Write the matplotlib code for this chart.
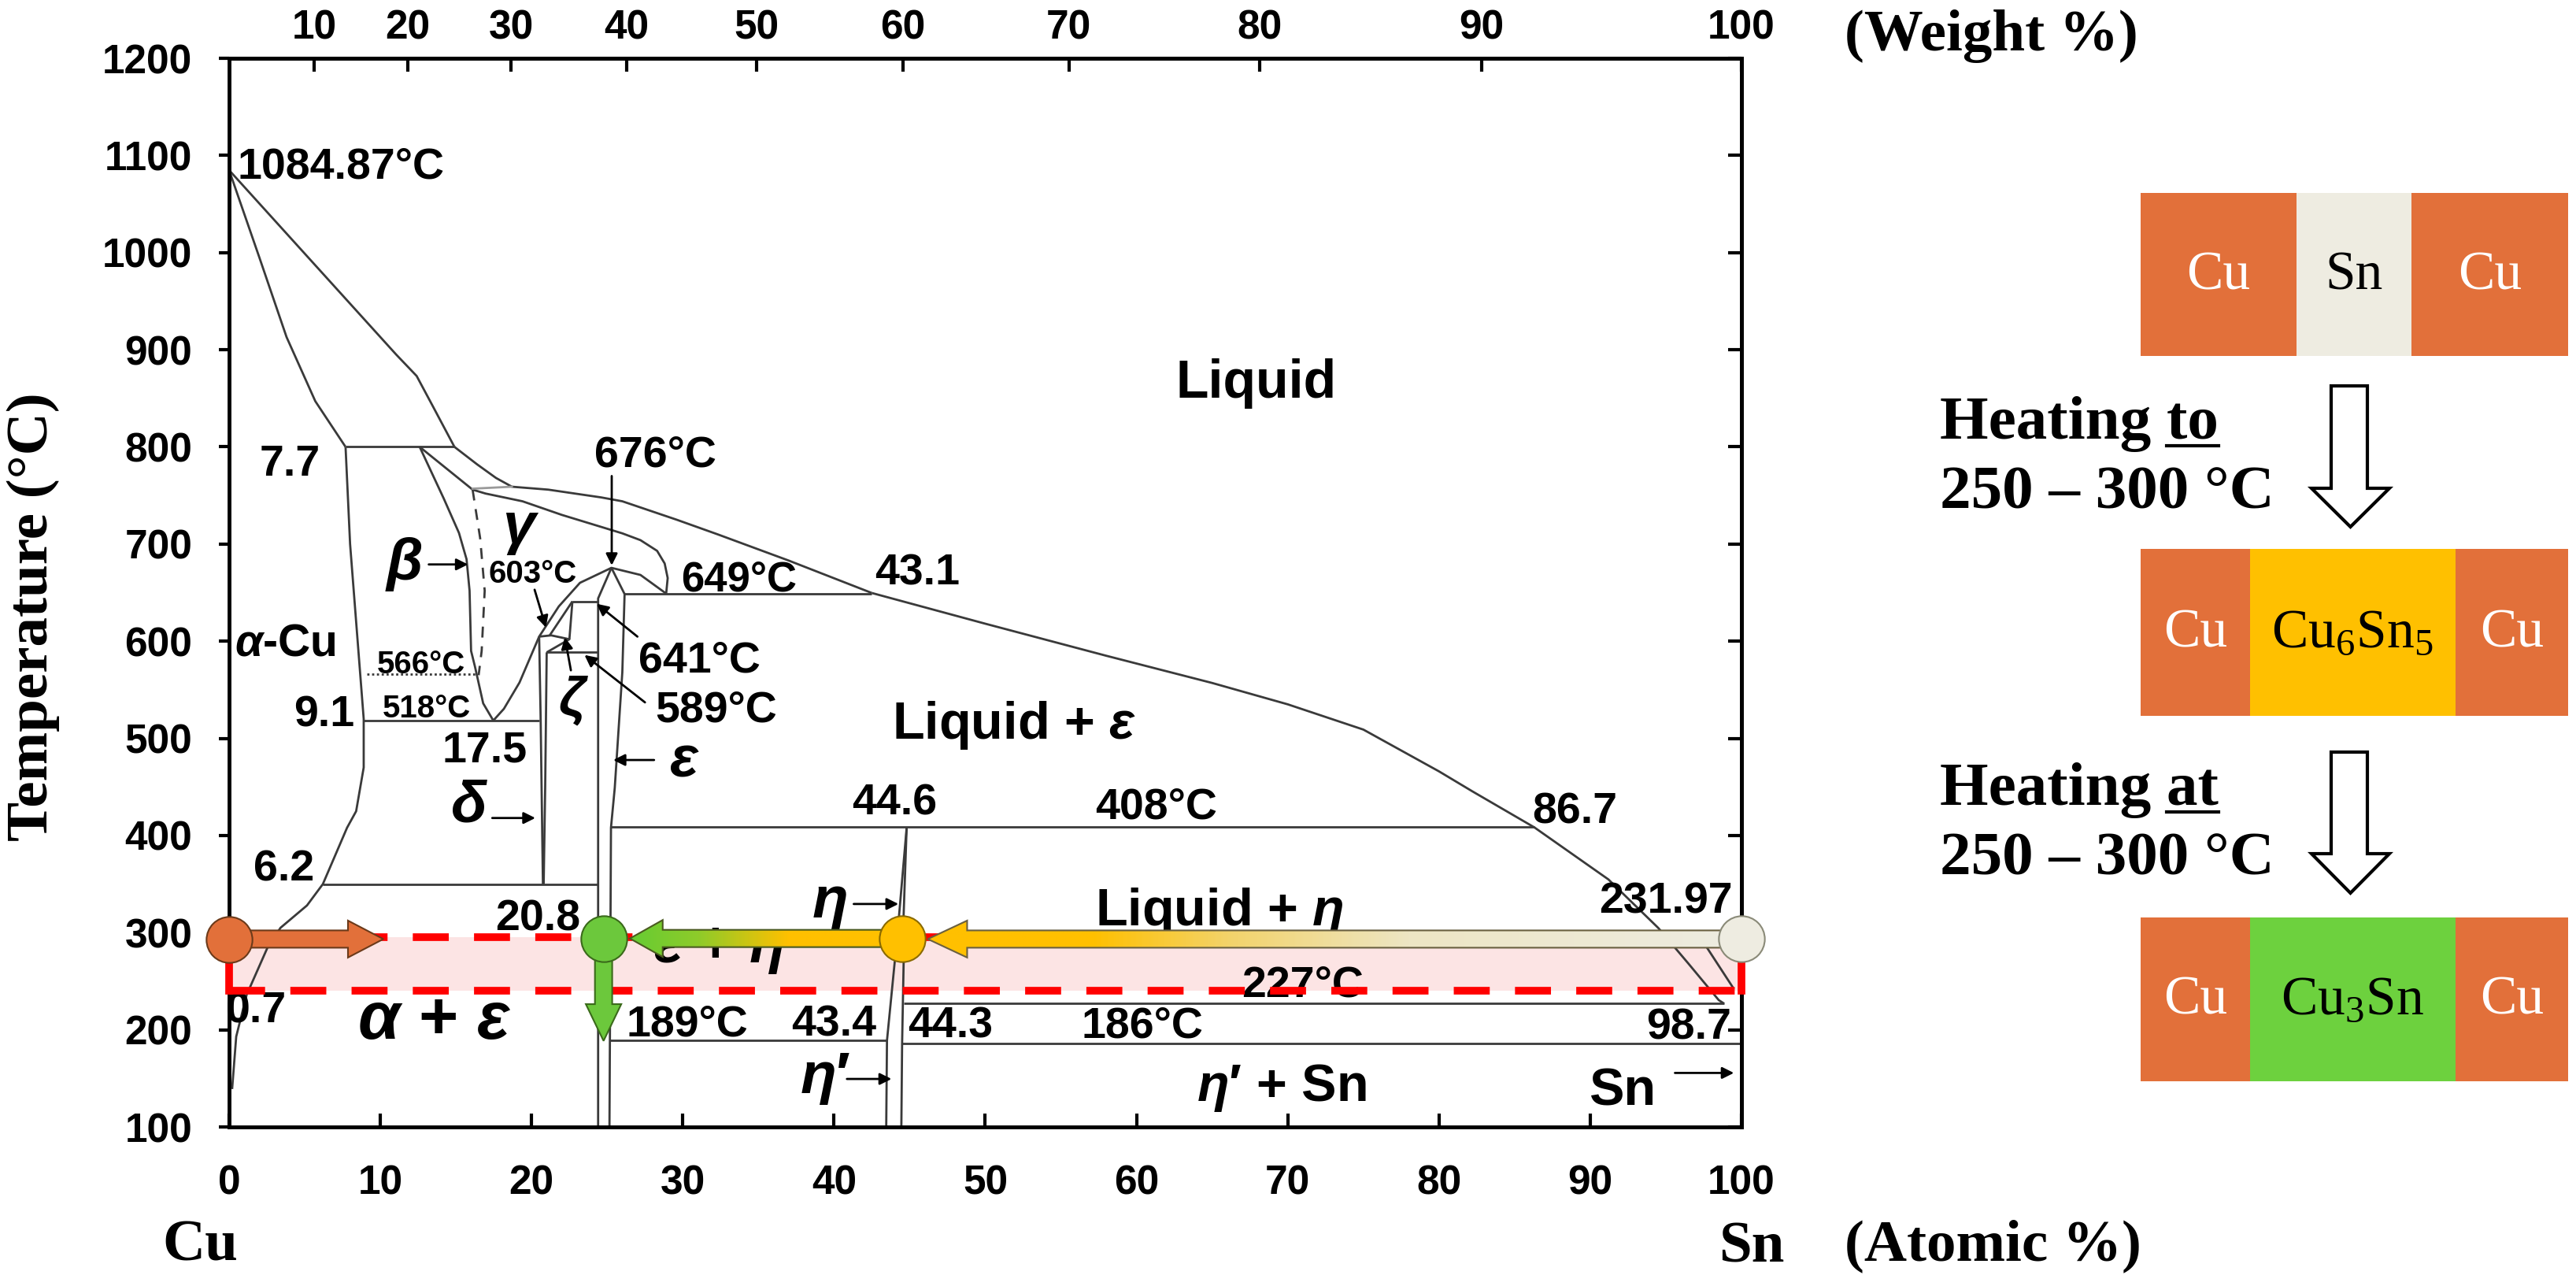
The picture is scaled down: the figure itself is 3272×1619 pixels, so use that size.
import numpy as np
import matplotlib
matplotlib.use("Agg")
import matplotlib.pyplot as plt
from matplotlib.patches import Polygon, Rectangle
from matplotlib.colors import LinearSegmentedColormap

plt.rcParams["font.family"] = ["Liberation Sans", "DejaVu Sans"]
plt.rcParams["font.weight"] = "bold"
plt.rcParams["mathtext.fontset"] = "custom"
plt.rcParams["mathtext.rm"] = "Liberation Sans:bold"
plt.rcParams["mathtext.it"] = "Liberation Sans:italic:bold"
plt.rcParams["mathtext.bf"] = "Liberation Sans:bold"
plt.rcParams["mathtext.sf"] = "Liberation Serif:regular"

SERIF = ["Liberation Serif", "DejaVu Serif"]

# ticks
temp_ticks = [100, 200, 300, 400, 500, 600, 700, 800, 900, 1000, 1100, 1200]
atomic_ticks = [0, 10, 20, 30, 40, 50, 60, 70, 80, 90, 100]
weight_ticks = [10, 20, 30, 40, 50, 60, 70, 80, 90, 100]

# phase boundaries: x = at.% Sn, T = deg C
liq_cu_x = [0, 11.05, 12.4, 13.5, 14.9]
liq_cu_T = [1084.87, 895, 873, 841, 800]
sol_cu_x = [0, 2.0, 3.8, 5.7, 7.7]
sol_cu_T = [1084.87, 995, 913, 847, 800]
per800_x = [7.7, 14.9]
per800_T = [800, 800]
alpha_x = [7.7, 8.0, 8.5, 8.9, 8.9, 8.4, 7.8, 6.2, 5.15, 3.4, 2.55, 1.16, 0.47, 0.2]
alpha_T = [800, 700, 600, 520, 470, 425, 408, 350, 328, 305, 285, 236, 193, 139]
beta_x = [12.6, 14.2, 15.2, 15.7, 15.9, 16.0, 16.26, 16.8, 17.47]
beta_T = [800, 746.6, 711.4, 684.4, 652, 590, 573.6, 536, 518.3]
dome_x = [17.47, 18.17, 19.2, 20.5, 21.8, 23.2, 25.28, 27.2, 28.9]
dome_T = [518.3, 530.4, 557.4, 604.7, 635.8, 660.1, 675.5, 668.2, 649]
gamma_x = [12.6, 16.1, 16.95, 19.4, 22.0, 26.0, 27.2, 28.3, 28.8, 29.0, 28.9]
gamma_T = [800, 756, 752, 744, 730, 711, 704, 693, 680, 665, 649]
liq_mid_x = [14.9, 16.4, 17.65, 18.7, 21.1, 24.6, 26.0, 29.6, 32.3, 37.0, 42.5]
liq_mid_T = [800, 782, 768, 759, 756, 748, 744, 725, 710, 683, 649.6]
liq_sn_x = [42.5, 50, 58, 65, 70, 75, 80, 82.2, 86.3, 91.2, 94.5, 96.5, 98.5, 98.85]
liq_sn_T = [649.6, 618, 585, 557, 535, 509, 466, 445.5, 408.4, 354.8, 304.8, 268, 230.5, 227]
sn_side_x = [97.7, 99.5]
sn_side_T = [285, 242]
eut518_x = [8.9, 20.5]
eut518_T = [518, 518]
eut350_x = [6.2, 24.4]
eut350_T = [350, 350]
per649_x = [26.15, 42.5]
per649_T = [649, 649]
eps_l_x = [25.28, 24.4, 24.4]
eps_l_T = [675.5, 644, 100]
eps_r_x = [25.28, 26.15, 26.0, 25.5, 25.25, 25.15]
eps_r_T = [675.5, 648.5, 568, 449, 408, 100]
zeta_top_x = [22.7, 24.4]
zeta_top_T = [641, 641]
zeta_a_x = [22.7, 22.5]
zeta_a_T = [641, 602]
zeta_b_x = [22.7, 21.2]
zeta_b_T = [641, 606]
small_x = [20.5, 21.3, 22.5, 21.0]
small_T = [604.7, 606, 602, 588.5]
delta_l_x = [20.5, 20.6, 20.75]
delta_l_T = [604.7, 520, 350]
delta_r_x = [21.0, 20.9, 20.8]
delta_r_T = [588.5, 450, 350]
eut589_x = [21.0, 24.4]
eut589_T = [588.5, 588.5]
per408_x = [25.2, 86.3]
per408_T = [408.5, 408.5]
eta_l_x = [44.8, 44.3, 44.0, 43.5, 43.45]
eta_l_T = [408, 318, 268, 189, 100]
eta_r_x = [44.8, 44.6, 44.6, 44.5, 44.45]
eta_r_T = [408, 318, 268, 186, 100]
eut227_x = [44.6, 98.85]
eut227_T = [227.5, 227.5]
l189_x = [25.15, 43.5]
l189_T = [189, 189]
l186_x = [44.5, 100]
l186_T = [186, 186]
dash_bg_x = [16.1, 16.6, 16.9, 16.7, 16.5]
dash_bg_T = [756, 706, 652, 590, 565]
dot566_x = [9.1, 16.4]
dot566_T = [566, 566]
grey760_x = [16.1, 18.7]
grey760_T = [757, 759]

solid_lines = [
    (liq_cu_x, liq_cu_T), (sol_cu_x, sol_cu_T), (per800_x, per800_T),
    (alpha_x, alpha_T), (beta_x, beta_T), (dome_x, dome_T),
    (gamma_x, gamma_T), (liq_mid_x, liq_mid_T), (liq_sn_x, liq_sn_T),
    (sn_side_x, sn_side_T), (eut518_x, eut518_T), (eut350_x, eut350_T),
    (per649_x, per649_T), (eps_l_x, eps_l_T), (eps_r_x, eps_r_T),
    (zeta_top_x, zeta_top_T), (zeta_a_x, zeta_a_T), (zeta_b_x, zeta_b_T),
    (small_x, small_T), (delta_l_x, delta_l_T), (delta_r_x, delta_r_T),
    (eut589_x, eut589_T), (per408_x, per408_T), (eta_l_x, eta_l_T),
    (eta_r_x, eta_r_T), (eut227_x, eut227_T), (l189_x, l189_T),
    (l186_x, l186_T),
]

# process window (deg C) and the diffusion arrows
band_T = [240, 295]
circle_x = [0, 24.76, 44.5, 100]
circle_T = [292.7, 294, 293.4, 293.4]
circle_fc = ["#E2703A", "#6CC83C", "#FFC000", "#EEECE1"]
circle_ec = ["#6b3a1a", "#3a6a1a", "#8a6a00", "#8a8a78"]
cu_arrow_x = [0, 10.2]
cu_arrow_T = 293.4
eta_arrow_x = [44.5, 26.5]
eta_arrow_T = 294
sn_arrow_x = [100, 46.2]
sn_arrow_T = 293.4
eps_arrow_x = 24.76
eps_arrow_T = [294, 188.6]

# phase labels: text, x, T, size, ha, va
labels = [
    ("1084.87°C", 0.54, 1076, 40, "left", "baseline"),
    ("7.7", 4.0, 770, 40, "center", "baseline"),
    (r"$\beta$", 11.55, 679.5, 54, "center", "center"),
    (r"$\gamma$", 19.3, 715, 54, "center", "center"),
    ("603°C", 20.1, 660, 29, "center", "baseline"),
    ("676°C", 28.2, 780, 40, "center", "baseline"),
    ("649°C", 33.7, 652, 38, "center", "baseline"),
    ("43.1", 45.5, 658.5, 40, "center", "baseline"),
    ("Liquid", 67.9, 850.6, 49, "center", "baseline"),
    (r"$\alpha$-Cu", 0.36, 585.5, 41, "left", "baseline"),
    ("566°C", 12.7, 567, 29, "center", "baseline"),
    ("9.1", 6.3, 512, 40, "center", "baseline"),
    ("518°C", 13.07, 521.5, 29, "center", "baseline"),
    ("17.5", 16.9, 476, 40, "center", "baseline"),
    (r"$\delta$", 15.9, 430, 54, "center", "center"),
    (r"$\zeta$", 22.76, 538.5, 50, "center", "center"),
    ("641°C", 31.1, 568.3, 40, "center", "baseline"),
    ("589°C", 32.2, 517, 40, "center", "baseline"),
    (r"$\varepsilon$", 30.1, 477.3, 54, "center", "center"),
    (r"Liquid + $\varepsilon$", 51.9, 500, 48, "center", "baseline"),
    ("6.2", 3.63, 353, 40, "center", "baseline"),
    ("44.6", 44.0, 421.8, 40, "center", "baseline"),
    ("408°C", 61.3, 417, 40, "center", "baseline"),
    ("86.7", 89.0, 412.2, 40, "center", "baseline"),
    ("20.8", 20.4, 302, 40, "center", "baseline"),
    (r"$\eta$", 39.7, 330, 54, "center", "center"),
    (r"Liquid + $\eta$", 65.5, 307.7, 48, "center", "baseline"),
    ("231.97", 95.0, 319.7, 40, "center", "baseline"),
    (r"$\varepsilon$ + $\eta$", 32.4, 284, 54, "center", "center"),
    ("227°C", 71.0, 234, 40, "center", "baseline"),
    (r"$\alpha$ + $\varepsilon$", 13.6, 209, 62, "center", "center"),
    ("0.7", 1.8, 207.8, 40, "center", "baseline"),
    ("189°C", 30.3, 193.6, 40, "center", "baseline"),
    ("43.4", 40.0, 194, 40, "center", "baseline"),
    ("44.3", 47.7, 191.6, 40, "center", "baseline"),
    ("186°C", 60.4, 191.6, 40, "center", "baseline"),
    ("98.7", 96.5, 190, 40, "center", "baseline"),
    (r"$\eta$′", 39.4, 149.4, 54, "center", "center"),
    (r"$\eta$′ + Sn", 69.6, 127, 48, "center", "baseline"),
    ("Sn", 92.1, 122.3, 48, "center", "baseline"),
]

label_arrows = [
    ((25.3, 770), (25.3, 678)),
    ((13.2, 679), (15.8, 679)),
    ((20.2, 653), (20.95, 614)),
    ((27.0, 604.7), (24.3, 638.5)),
    ((27.5, 537), (23.5, 585.8)),
    ((22.6, 570), (22.2, 604)),
    ((28.1, 477.7), (25.4, 477.7)),
    ((17.4, 418), (20.25, 418)),
    ((41.3, 329.5), (44.26, 329.5)),
    ((40.85, 149.4), (43.8, 149.4)),
    ((95.6, 155.6), (99.5, 155.6)),
]

M_CU, M_SN = 63.546, 118.71


def at2wt(a):
    a = np.asarray(a, dtype=float)
    with np.errstate(divide="ignore", invalid="ignore"):
        return 100 * a * M_SN / (a * M_SN + (100 - a) * M_CU)


def wt2at(w):
    w = np.asarray(w, dtype=float)
    with np.errstate(divide="ignore", invalid="ignore"):
        return 100 * (w / M_SN) / (w / M_SN + (100 - w) / M_CU)


W, H = 3273, 1619
fig = plt.figure(figsize=(W / 100, H / 100), dpi=100)
ax = fig.add_axes([291 / W, 1 - 1431 / H, (2212 - 291) / W, (1431 - 74) / H])

LINE = "#3a3a3a"
for xs, ts in solid_lines:
    ax.plot(xs, ts, color=LINE, lw=2.0, zorder=2, solid_capstyle="butt")
ax.plot(dash_bg_x, dash_bg_T, color=LINE, lw=2.0, dashes=(5, 4), zorder=2)
ax.plot(dot566_x, dot566_T, color=LINE, lw=2.0, dashes=(1, 1.2), zorder=2)
ax.plot(grey760_x, grey760_T, color="#9a9a9a", lw=2.0, zorder=2)

# process window
ax.add_patch(Rectangle((0, band_T[0]), 100, band_T[1] - band_T[0],
                       fc="#FCE4E4", ec="none", zorder=0.5))
for t in band_T:
    ax.plot([0, 100], [t, t], color="red", lw=7, dashes=(4.7, 3.3),
            zorder=4, solid_capstyle="butt", dash_capstyle="butt")
ax.plot([0, 0], band_T, color="red", lw=7, zorder=4, clip_on=False)
ax.plot([100, 100], band_T, color="red", lw=7, zorder=4, clip_on=False)

for txt, x, t, size, ha, va in labels:
    ax.text(x, t, txt, fontsize=size, ha=ha, va=va, zorder=3)

for (x0, t0), (x1, t1) in label_arrows:
    ax.annotate("", xy=(x1, t1), xytext=(x0, t0), zorder=3,
                arrowprops=dict(arrowstyle="-|>", color="k", lw=2,
                                mutation_scale=22, shrinkA=0, shrinkB=0))

HS, HH = 8.9, 19.0   # shaft / head half height in deg C


def h_arrow(x_tail, x_tip, y, hl):
    d = np.sign(x_tip - x_tail)
    xb = x_tip - d * hl
    return [(x_tail, y - HS), (xb, y - HS), (xb, y - HH), (x_tip, y),
            (xb, y + HH), (xb, y + HS), (x_tail, y + HS)]


def grad_arrow(x_tail, x_tip, y, hl, stops, ec):
    verts = h_arrow(x_tail, x_tip, y, hl)
    poly = Polygon(verts, closed=True, fc="none", ec=ec, lw=1.5, zorder=6)
    ax.add_patch(poly)
    x0, x1 = min(x_tail, x_tip), max(x_tail, x_tip)
    cmap = LinearSegmentedColormap.from_list(
        "g", [((sx - x0) / (x1 - x0), c) for sx, c in stops])
    im = ax.imshow(np.linspace(0, 1, 400)[None, :], cmap=cmap, aspect="auto",
                   extent=[x0, x1, y - HH, y + HH], origin="lower",
                   interpolation="bilinear", zorder=5)
    im.set_clip_path(poly)


ax.add_patch(Polygon(h_arrow(cu_arrow_x[0], cu_arrow_x[1], cu_arrow_T, 2.34),
                     closed=True, fc="#E2703A", ec="#6b3a1a", lw=1.5, zorder=6))
grad_arrow(eta_arrow_x[0], eta_arrow_x[1], eta_arrow_T, 2.17,
           [(26.5, "#66CC33"), (31.0, "#8ECB2A"), (37.0, "#FFC000"),
            (44.5, "#FFC000")], "#4a5a20")
grad_arrow(sn_arrow_x[0], sn_arrow_x[1], sn_arrow_T, 2.6,
           [(46.2, "#FFC000"), (57.0, "#FFC000"), (66.0, "#F3D36A"),
            (78.0, "#EDE6C4"), (100, "#EEECE1")], "#6a6040")

# vertical Cu3Sn arrow
ws, wh, hlv = 0.57, 1.17, 37.8
yb = eps_arrow_T[1] + hlv
vx = eps_arrow_x
ax.add_patch(Polygon([(vx - ws, eps_arrow_T[0]), (vx - ws, yb), (vx - wh, yb),
                      (vx, eps_arrow_T[1]), (vx + wh, yb), (vx + ws, yb),
                      (vx + ws, eps_arrow_T[0])],
                     closed=True, fc="#6CC83C", ec="#3a6a1a", lw=1.5, zorder=6))

for x, t, fc, ec in zip(circle_x, circle_T, circle_fc, circle_ec):
    ax.plot(x, t, "o", ms=42, mfc=fc, mec=ec, mew=1.5, zorder=7, clip_on=False)

ax.set_xlim(0, 100)
ax.set_ylim(100, 1200)
ax.set_xticks(atomic_ticks)
ax.set_yticks(temp_ticks)
for s in ax.spines.values():
    s.set_linewidth(3.5)
ax.tick_params(axis="x", direction="in", length=12, width=3, labelsize=37,
               pad=34, top=False)
ax.tick_params(axis="y", direction="out", length=9.5, width=3, labelsize=37,
               pad=24)

sec_top = ax.secondary_xaxis("top", functions=(at2wt, wt2at))
sec_top.set_xticks(weight_ticks)
sec_top.tick_params(direction="in", length=12, width=3, labelsize=37, pad=10)
sec_top.spines["top"].set_linewidth(3.5)

sec_right = ax.secondary_yaxis("right")
sec_right.set_yticks(temp_ticks)
sec_right.tick_params(direction="in", length=12, width=3, labelright=False)
sec_right.spines["right"].set_linewidth(3.5)

# overlay in figure pixels for outer text and the schematic on the right
ov = fig.add_axes([0, 0, 1, 1], zorder=-1)
ov.set_xlim(0, W)
ov.set_ylim(H, 0)
ov.axis("off")

ov.text(42, 783, "Temperature (°C)", rotation=90, fontsize=54, family=SERIF,
        ha="center", va="center")
ov.text(254, 1600, "Cu", fontsize=54, family=SERIF, ha="center", va="baseline")
ov.text(2225, 1602, "Sn", fontsize=54, family=SERIF, ha="center", va="baseline")
ov.text(2343, 1600, "(Atomic %)", fontsize=54, family=SERIF, ha="left",
        va="baseline")
ov.text(2343, 64, "(Weight %)", fontsize=54, family=SERIF, ha="left",
        va="baseline")

CU, SN, IMC1, IMC2 = "#E2703A", "#EEECE1", "#FFC000", "#6DD13E"
rows = [
    (245, 452, [(2719, 2917, CU, "Cu", "white"), (2917, 3063, SN, "Sn", "black"),
                (3063, 3262, CU, "Cu", "white")]),
    (697, 909, [(2719, 2858, CU, "Cu", "white"),
                (2858, 3119, IMC1, r"Cu$_\mathsf{6}$Sn$_\mathsf{5}$", "black"),
                (3119, 3262, CU, "Cu", "white")]),
    (1165, 1373, [(2719, 2858, CU, "Cu", "white"),
                  (2858, 3119, IMC2, r"Cu$_\mathsf{3}$Sn", "black"),
                  (3119, 3262, CU, "Cu", "white")]),
]
for y0, y1, segs in rows:
    for x0, x1, col, txt, tc in segs:
        ov.add_patch(Rectangle((x0, y0), x1 - x0, y1 - y0, fc=col, ec="none"))
        ov.text((x0 + x1) / 2, (y0 + y1) / 2 + 2, txt, color=tc, fontsize=50,
                family=SERIF, fontweight="normal", ha="center", va="center")

for top, base, tip in [(490, 620, 669), (955, 1084, 1134)]:
    ov.add_patch(Polygon([(2961, top), (3007, top), (3007, base), (3035, base),
                          (2985.5, tip), (2936, base), (2961, base)],
                         closed=True, fc="white", ec="black", lw=3))

renderer = fig.canvas.get_renderer()
inv = ov.transData.inverted()
for y_a, y_b, word in [(557, 645, "to"), (1022, 1110, "at")]:
    t_full = ov.text(2464, y_a, "Heating " + word, fontsize=57, family=SERIF,
                     ha="left", va="baseline")
    ov.text(2464, y_b, "250 – 300 °C", fontsize=57, family=SERIF, ha="left",
            va="baseline")
    bb_full = t_full.get_window_extent(renderer)
    tmp = ov.text(0, 0, word, fontsize=57, family=SERIF)
    w_word = tmp.get_window_extent(renderer).width
    tmp.remove()
    xa = inv.transform((bb_full.x1 - w_word, 0))[0]
    xb2 = inv.transform((bb_full.x1, 0))[0]
    ov.plot([xa, xb2], [y_a + 9, y_a + 9], color="black", lw=3)

fig.savefig("out.png", dpi=100)
